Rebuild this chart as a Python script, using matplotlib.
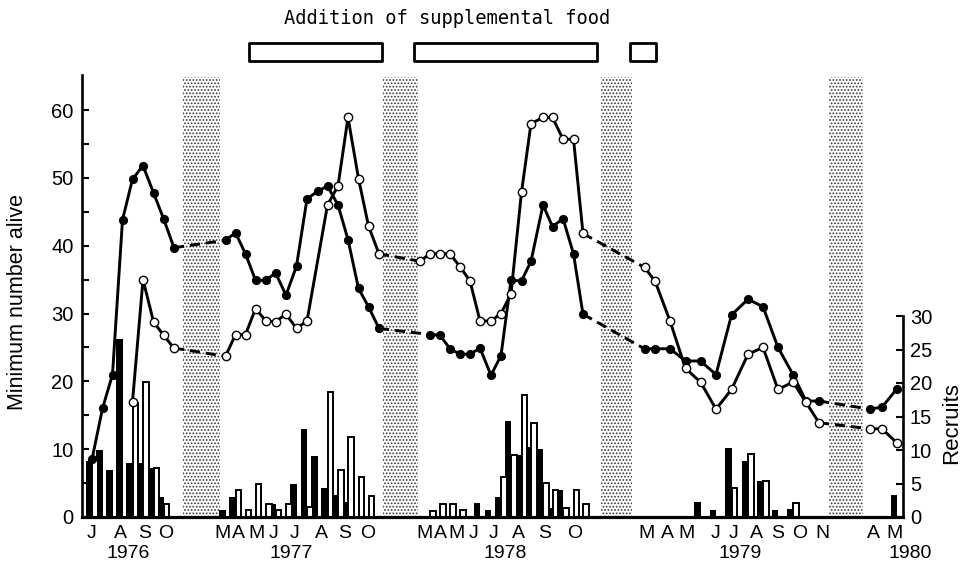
"""Minimum number alive and recruits on the two grids, 1976-1980."""
import numpy as np
import matplotlib
matplotlib.use("Agg")
import matplotlib.pyplot as plt
from matplotlib.patches import Rectangle
from matplotlib.transforms import blended_transform_factory

nan = np.nan

# sampling sessions, as positions on the (winter-compressed) time axis
session_pos = [
    92, 102.5, 112.5, 122.5, 132.5, 143, 153.5, 163.5, 174,                      # 1976
    225.5, 235.5, 245.5, 255.5, 266, 275.5, 286, 296.5, 307, 317.5, 327.5, 338,
    348, 358.5, 368.5, 379,                                                       # 1977
    420, 430, 440, 450, 460, 470, 480, 491, 501, 511, 521.5, 531, 543, 552.5,
    563, 573.5, 583,                                                              # 1978
    644.5, 655, 670, 685.5, 700.5, 716, 731.5, 748, 763, 778, 793, 806, 819,      # 1979
    870, 882, 897,                                                                # 1980
]

# minimum number alive (left axis)
alive_closed = [
    8.5, 16, 21, 43.8, 49.8, 51.8, 47.8, 44, 39.7,
    40.8, 41.9, 38.8, 34.9, 34.9, 36.0, 32.7, 37.0, 46.9, 48.0, 48.8, 46.0,
    40.9, 33.7, 31.0, 27.8,
    nan, 26.9, 26.8, 24.8, 24.0, 24.0, 24.9, 20.9, 23.8, 34.9, 34.8, 37.7, 46.0, 42.8,
    44.0, 38.8, 29.9,
    24.8, 24.8, 24.8, 23.0, 23.0, 21.0, 29.8, 32.1, 31.0, 25.0, 21.0, 17.1, 17.1,
    15.9, 16.2, 18.9,
]
alive_open = [
    nan, nan, nan, nan, 17, 35, 28.8, 26.8, 24.9,
    23.7, 26.9, 26.9, 30.7, 28.9, 28.8, 29.9, 27.8, 28.9, nan, 46.0, 48.8,
    58.9, 49.9, 42.9, 38.8,
    37.7, 38.8, 38.8, 38.8, 36.9, 34.8, 28.9, 28.9, 30.0, 32.9, 47.9, 58.0, 58.9, 58.9,
    55.7, 55.7, 41.8,
    36.8, 34.8, 28.9, 21.9, 19.9, 15.9, 18.8, 24.0, 25.0, 18.8, 19.9, 16.9, 13.9,
    13.0, 13.0, 10.9,
]

# recruits per session (right axis)
recruits_closed = [
    8.3, 10, 7, 26.5, 8, 8, 7.3, 3, 0,
    1, 3, 0, 0, 0, 2, 0, 5, 13.2, 9.1, 4.4, 3.3,
    2.2, 0, 0, 0,
    0, 0, 0, 0, 0, 0, 2.1, 1.1, 3, 14.4, 9.3, 10.5, 10.2, 1.4,
    4.1, 0, 0,
    0, 0, 0, 0, 2.3, 1.1, 10.3, 8.3, 5.3, 1.1, 1.2, 0, 0,
    0, 0, 3.3,
]
recruits_open = [
    8.5, 0, 0, 0, 17, 20.2, 7.3, 2, 0,
    0, 4, 1, 4.9, 1.9, 1, 1.9, 0, 1.5, 0, 18.7, 7,
    12, 6, 3.1, 0,
    0, 0.9, 2, 2, 1, 0, 0, 0, 6, 9.3, 18.2, 14, 5.1, 4.1,
    1.4, 4.1, 1.9,
    0, 0, 0, 0, 0, 0, 4.3, 9.4, 5.3, 0, 2.1, 0, 0,
    0, 0, 0,
]

month_pos = [92, 120, 145, 166,
             223, 238, 256, 274, 295, 321, 345, 368,
             424, 440, 457, 474, 494, 518, 545, 575,
             646, 667, 687, 716, 734, 756, 778, 800, 822,
             873, 895]
month_lab = ["J", "A", "S", "O",
             "M", "A", "M", "J", "J", "A", "S", "O",
             "M", "A", "M", "J", "J", "A", "S", "O",
             "M", "A", "M", "J", "J", "A", "S", "O", "N",
             "A", "M"]
year_pos = [128, 291, 505, 740, 910]
year_lab = ["1976", "1977", "1978", "1979", "1980"]

winters = [(183, 220), (383, 418), (601, 632), (829, 863)]
food_periods = [(249, 382), (414, 597), (630, 656)]

plt.rcParams["font.family"] = ["Liberation Sans", "DejaVu Sans"]
plt.rcParams["hatch.linewidth"] = 0.8

fig = plt.figure(figsize=(9.67, 5.69), dpi=100)
ax = fig.add_axes([82 / 967, 52 / 569, 821 / 967, 442 / 569])
ax2 = ax.twinx()
ax.set_zorder(ax2.get_zorder() + 1)
ax.patch.set_visible(False)

ax.set_xlim(82, 903)
ax.set_ylim(0, 442 / 6.783)
ax2.set_ylim(0, 30 * 442 / 201)

# winters (stippled)
for a, b in winters:
    ax2.axvspan(a, b, ymin=0, ymax=0.995, facecolor="white", edgecolor="#333333",
                hatch=".....", linewidth=0, zorder=0)

# recruits bars
t = np.array(session_pos)
rc = np.array(recruits_closed)
ro = np.array(recruits_open)
m = rc > 0
ax2.bar(t[m], rc[m], width=-6.5, align="edge", color="black", zorder=2)
m = ro > 0
ax2.bar(t[m], ro[m], width=5.5, align="edge", facecolor="white",
        edgecolor="black", linewidth=1.4, zorder=2)


def draw_series(t, y, face):
    y = np.array(y, dtype=float)
    ok = ~np.isnan(y)
    tt, yy = t[ok], y[ok]
    breaks = np.where(np.diff(tt) > 30)[0] + 1
    for st, sy in zip(np.split(tt, breaks), np.split(yy, breaks)):
        ax.plot(st, sy, "-", color="black", lw=2.1, zorder=3)
    for i in breaks:
        ax.plot(tt[i - 1:i + 1], yy[i - 1:i + 1], linestyle=(0, (3.5, 2)),
                color="black", lw=2.1, zorder=3)
    ax.plot(tt, yy, "o", ms=6 if face == "white" else 5.6, mfc=face,
            mec="black", mew=1.0, zorder=4, linestyle="none")


draw_series(t, alive_closed, "black")
draw_series(t, alive_open, "white")

# food addition boxes above the plot
trans = blended_transform_factory(ax.transData, ax.transAxes)
for a, b in food_periods:
    ax.add_patch(Rectangle((a, 1.031), b - a, 0.042, transform=trans, fill=False,
                           lw=2.0, edgecolor="black", clip_on=False,
                           joinstyle="round"))
fig.text(447 / 967, 1 - 18 / 569, "Addition of supplemental food",
         family="DejaVu Sans Mono", fontsize=13.5, ha="center", va="center")

# axes styling
for s in ["top", "right"]:
    ax.spines[s].set_visible(False)
for s in ["top", "left", "bottom"]:
    ax2.spines[s].set_visible(False)
ax.spines["left"].set_linewidth(1.9)
ax.spines["bottom"].set_linewidth(2.3)
ax2.spines["right"].set_linewidth(1.9)
ax2.spines["right"].set_bounds(0, 30)

ax.set_yticks(range(0, 61, 10))
ax.set_yticks(range(5, 61, 10), minor=True)
ax.tick_params(axis="y", which="both", direction="in", length=5, width=1.5,
               labelsize=14.5, pad=6)
ax2.set_yticks(range(0, 31, 5))
ax2.tick_params(axis="y", direction="in", length=5, width=1.5, labelsize=14.5, pad=5)

ax.set_xticks(month_pos)
ax.set_xticklabels(month_lab)
ax.tick_params(axis="x", length=0, labelsize=14, pad=6)
for x, lab in zip(year_pos, year_lab):
    ax.text(x, -0.083, lab, transform=trans, ha="center", va="center",
            fontsize=14, clip_on=False)

fig.text(18 / 967, 1 - 302 / 569, "Minimum number alive", rotation=90,
         ha="center", va="center", fontsize=15.5)
fig.text(952 / 967, 1 - 423 / 569, "Recruits", rotation=90,
         ha="center", va="center", fontsize=16)

fig.savefig("out.png", dpi=100)
